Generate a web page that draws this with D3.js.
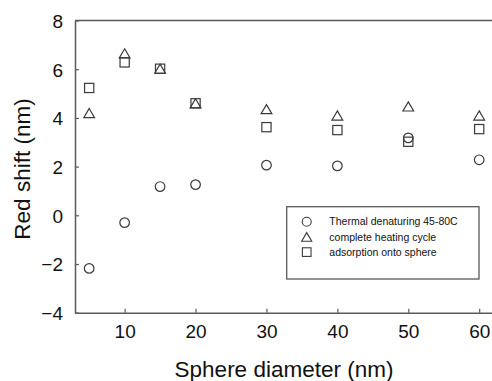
<!DOCTYPE html>
<html>
<head>
<meta charset="utf-8">
<script src="https://cdn.jsdelivr.net/npm/d3@7"></script>
<style>
  html, body { margin: 0; padding: 0; background: #fff; }
  svg { display: block; font-family: "Liberation Sans", Arial, sans-serif; }
</style>
</head>
<body>
<svg id="chart" width="492" height="381"></svg>
<script>
const diameters = [5, 10, 15, 20, 30, 40, 50, 60];
const thermal = [-2.18, -0.30, 1.18, 1.26, 2.06, 2.03, 3.18, 2.28];
const heating = [4.20, 6.65, 6.02, 4.60, 4.36, 4.10, 4.47, 4.10];
const adsorption = [5.23, 6.28, 6.02, 4.60, 3.62, 3.50, 3.02, 3.54];
const xTicks = [10, 20, 30, 40, 50, 60];
const yTicks = [-4, -2, 0, 2, 4, 6, 8];
const seriesNames = ["Thermal denaturing 45-80C", "complete heating cycle", "adsorption onto sphere"];
const seriesShapes = ["circle", "triangle", "square"];

const svg = d3.select("#chart");
const x = d3.scaleLinear().domain([3, 62.2]).range([75, 494.8]);
const y = d3.scaleLinear().domain([-4, 8]).range([312.7, 20.5]);
const axisColor = "#5a5a5a";
const markColor = "#3a3a3a";

svg.append("line").attr("x1", x(3)).attr("x2", 492).attr("y1", y(8)).attr("y2", y(8))
  .attr("stroke", axisColor).attr("stroke-width", 1.5);

const xAxis = d3.axisBottom(x).tickValues(xTicks).tickSizeInner(-4).tickSizeOuter(0).tickPadding(12);
const gx = svg.append("g").attr("transform", `translate(0,${y(-4)})`).call(xAxis);
const yAxis = d3.axisLeft(y).tickValues(yTicks).tickSizeInner(-4).tickSizeOuter(0).tickPadding(12);
const gy = svg.append("g").attr("transform", `translate(${x(3)},0)`).call(yAxis);
[gx, gy].forEach(g => {
  g.select(".domain").attr("stroke", axisColor).attr("stroke-width", 1.5);
  g.selectAll(".tick line").attr("stroke", axisColor).attr("stroke-width", 1.2);
  g.selectAll(".tick text").attr("fill", "#111").attr("font-size", 19)
    .attr("font-family", '"Liberation Sans", Arial, sans-serif');
});
gx.selectAll(".tick text").attr("dy", "0.68em");
gy.selectAll(".tick text").attr("dy", "0.36em");

svg.append("text").attr("x", 284).attr("y", 376.5).attr("text-anchor", "middle")
  .attr("font-size", 22.5).attr("fill", "#111").text("Sphere diameter (nm)");
svg.append("text").attr("transform", "translate(29.5,169) rotate(-90)").attr("text-anchor", "middle")
  .attr("font-size", 22.5).attr("fill", "#111").text("Red shift (nm)");

function drawShape(g, shape, cx, cy, s) {
  if (shape === "circle") {
    g.append("circle").attr("cx", cx).attr("cy", cy).attr("r", s * 0.5);
  } else if (shape === "square") {
    g.append("rect").attr("x", cx - s * 0.48).attr("y", cy - s * 0.48).attr("width", s * 0.96).attr("height", s * 0.96);
  } else {
    const w = s * 1.12, h = s * 0.95;
    g.append("path").attr("d", `M${cx},${cy - h / 2}L${cx + w / 2},${cy + h / 2}L${cx - w / 2},${cy + h / 2}Z`);
  }
}

const series = [thermal, heating, adsorption];
const marks = svg.append("g").attr("fill", "none").attr("stroke", markColor).attr("stroke-width", 1.2);
series.forEach((vals, si) => {
  vals.forEach((v, i) => drawShape(marks, seriesShapes[si], x(diameters[i]), y(v), 9.6));
});

const lg = svg.append("g");
lg.append("rect").attr("x", 286.7).attr("y", 206.7).attr("width", 192.3).attr("height", 72.3)
  .attr("fill", "#fff").attr("stroke", axisColor).attr("stroke-width", 1.3);
const lgMarks = lg.append("g").attr("fill", "none").attr("stroke", markColor).attr("stroke-width", 1.1);
seriesNames.forEach((name, i) => {
  const cy = 221.7 + i * 15.2;
  drawShape(lgMarks, seriesShapes[i], 306.7, cy, 9);
  lg.append("text").attr("x", 329.3).attr("y", cy).attr("dy", "0.36em")
    .attr("font-size", 10.5).attr("fill", "#111").text(name);
});
</script>
</body>
</html>
